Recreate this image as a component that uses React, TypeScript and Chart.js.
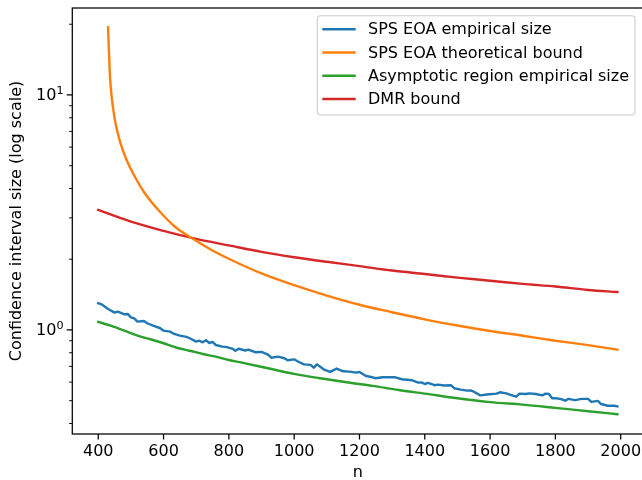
import React, { useEffect, useRef } from 'react';
import { Chart, registerables } from 'chart.js';

Chart.register(...registerables);

// ---------- data ----------
const blueN = [400,410,430,450,460,480,490,500,510,520,540,550,570,590,600,620,630,650,670,680,700,710,720,730,740,750,760,780,790,810,820,830,850,860,880,900,920,930,950,970,980,1000,1010,1030,1050,1060,1070,1090,1110,1130,1150,1170,1190,1200,1220,1240,1250,1270,1300,1310,1330,1360,1380,1390,1400,1410,1430,1440,1460,1480,1490,1510,1530,1540,1550,1570,1590,1620,1630,1650,1660,1680,1690,1710,1720,1740,1760,1770,1780,1790,1800,1820,1830,1840,1860,1880,1900,1910,1930,1940,1960,1980,1990];
const blueSize = [1.299,1.286,1.229,1.185,1.197,1.166,1.170,1.132,1.121,1.085,1.092,1.068,1.040,1.017,0.993,0.984,0.965,0.946,0.934,0.922,0.892,0.900,0.886,0.904,0.880,0.889,0.863,0.849,0.847,0.833,0.816,0.832,0.818,0.825,0.804,0.806,0.785,0.762,0.770,0.758,0.743,0.750,0.736,0.714,0.710,0.691,0.714,0.680,0.663,0.685,0.667,0.665,0.658,0.663,0.637,0.629,0.623,0.629,0.630,0.629,0.617,0.611,0.597,0.598,0.589,0.595,0.582,0.585,0.580,0.582,0.565,0.557,0.552,0.553,0.546,0.527,0.531,0.536,0.543,0.537,0.531,0.520,0.536,0.534,0.537,0.534,0.527,0.536,0.534,0.512,0.513,0.507,0.500,0.509,0.503,0.509,0.509,0.494,0.499,0.484,0.476,0.476,0.473];

const orangeN = [430,433,436,441,451,466,487,512,543,584,635,686,747,803,900,1000,1100,1200,1300,1400,1500,1600,1700,1800,1900,1990];
const orangeSize = [19.4,15.0,11.96,9.84,7.83,6.38,5.29,4.49,3.81,3.24,2.75,2.46,2.19,2.0,1.74,1.55,1.40,1.28,1.19,1.11,1.045,0.99,0.945,0.90,0.862,0.825];

const greenN = [400,440,480,520,560,600,640,680,720,760,800,840,920,1000,1080,1160,1240,1320,1400,1500,1600,1700,1800,1900,1990];
const greenSize = [1.082,1.040,0.993,0.946,0.913,0.878,0.840,0.816,0.790,0.770,0.745,0.726,0.687,0.650,0.623,0.599,0.578,0.555,0.536,0.512,0.493,0.481,0.466,0.451,0.438];

const redN = [400,500,600,700,800,900,1000,1100,1200,1300,1400,1500,1600,1700,1800,1900,1990];
const redSize = [3.24,2.89,2.64,2.44,2.29,2.15,2.04,1.95,1.87,1.79,1.73,1.67,1.62,1.57,1.53,1.48,1.45];

const seriesLabels = [
  'SPS EOA empirical size',
  'SPS EOA theoretical bound',
  'Asymptotic region empirical size',
  'DMR bound',
];
const seriesColors = ['#1f77b4', '#ff7f0e', '#2ca02c', '#d62728'];

const xTickValues = [400, 600, 800, 1000, 1200, 1400, 1600, 1800, 2000];
const yMajorTicks = [1, 10];
const yMajorExponents = ['0', '1'];
const yMinorTicks = [0.4, 0.5, 0.6, 0.7, 0.8, 0.9, 2, 3, 4, 5, 6, 7, 8, 9, 20];

const xTitle = 'n';
const yTitle = 'Confidence interval size (log scale)';

// ---------- helpers ----------
const FONT_FAMILY = '"DejaVu Sans", "Liberation Sans", sans-serif';
const FS = 16;
const LW = 2.4;

const toPoints = (xs: number[], ys: number[]) => xs.map((x, i) => ({ x, y: ys[i] }));

const mplPlugin = {
  id: 'mplDecor',
  afterDraw(chart: any) {
    const { ctx, chartArea: a, scales } = chart;
    const xs = scales.x;
    const ys = scales.y;
    ctx.save();
    // spines
    ctx.strokeStyle = '#000';
    ctx.lineWidth = 1.25;
    ctx.strokeRect(a.left, a.top, a.right - a.left, a.bottom - a.top);

    // x major ticks
    ctx.beginPath();
    for (const v of xTickValues) {
      const px = xs.getPixelForValue(v);
      ctx.moveTo(px, a.bottom);
      ctx.lineTo(px, a.bottom + 5.6);
    }
    ctx.stroke();

    // y major ticks
    ctx.beginPath();
    for (const v of yMajorTicks) {
      const py = ys.getPixelForValue(v);
      ctx.moveTo(a.left, py);
      ctx.lineTo(a.left - 5.6, py);
    }
    ctx.stroke();
    // y minor ticks
    ctx.lineWidth = 0.95;
    ctx.beginPath();
    for (const v of yMinorTicks) {
      const py = ys.getPixelForValue(v);
      ctx.moveTo(a.left, py);
      ctx.lineTo(a.left - 3.2, py);
    }
    ctx.stroke();

    // y tick labels  10^k
    ctx.fillStyle = '#000';
    ctx.textBaseline = 'alphabetic';
    ctx.textAlign = 'left';
    yMajorTicks.forEach((v, i) => {
      const py = ys.getPixelForValue(v);
      const exp = yMajorExponents[i];
      ctx.font = `${FS * 0.7}px ${FONT_FAMILY}`;
      const ew = ctx.measureText(exp).width;
      ctx.font = `${FS}px ${FONT_FAMILY}`;
      const bw = ctx.measureText('10').width;
      const right = 63.5;
      const x0 = right - ew - bw;
      ctx.fillText('10', x0, py + 5.5);
      ctx.font = `${FS * 0.7}px ${FONT_FAMILY}`;
      ctx.fillText(exp, x0 + bw, py - 1.3);
    });

    // legend
    const lx = 317.3, ly = 15.7, lw = 317.7, lh = 99.3, r = 3.2;
    ctx.beginPath();
    ctx.moveTo(lx + r, ly);
    ctx.lineTo(lx + lw - r, ly);
    ctx.quadraticCurveTo(lx + lw, ly, lx + lw, ly + r);
    ctx.lineTo(lx + lw, ly + lh - r);
    ctx.quadraticCurveTo(lx + lw, ly + lh, lx + lw - r, ly + lh);
    ctx.lineTo(lx + r, ly + lh);
    ctx.quadraticCurveTo(lx, ly + lh, lx, ly + lh - r);
    ctx.lineTo(lx, ly + r);
    ctx.quadraticCurveTo(lx, ly, lx + r, ly);
    ctx.closePath();
    ctx.fillStyle = 'rgba(255,255,255,0.8)';
    ctx.fill();
    ctx.strokeStyle = '#cccccc';
    ctx.lineWidth = 1.1;
    ctx.stroke();

    chart.data.datasets.forEach((ds: any, i: number) => {
      const y = 29.3 + i * 23.23;
      ctx.strokeStyle = ds.borderColor;
      ctx.lineWidth = LW;
      ctx.lineCap = 'butt';
      ctx.beginPath();
      ctx.moveTo(322.3, y);
      ctx.lineTo(355.7, y);
      ctx.stroke();
      ctx.fillStyle = '#000';
      ctx.font = `${FS}px ${FONT_FAMILY}`;
      ctx.fillText(ds.label, 368, y + 5);
    });
    ctx.restore();
  },
};

export default function App() {
  const ref = useRef<HTMLCanvasElement>(null);

  useEffect(() => {
    if (!ref.current) return;
    const mk = (i: number, xs: number[], ys: number[], smooth: boolean) => ({
      label: seriesLabels[i],
      data: toPoints(xs, ys),
      borderColor: seriesColors[i],
      backgroundColor: seriesColors[i],
      borderWidth: LW,
      pointRadius: 0,
      pointHoverRadius: 0,
      fill: false,
      borderJoinStyle: 'round' as const,
      borderCapStyle: 'square' as const,
      cubicInterpolationMode: smooth ? ('monotone' as const) : ('default' as const),
      tension: 0,
    });

    const chart = new Chart(ref.current, {
      type: 'line',
      data: {
        datasets: [
          mk(0, blueN, blueSize, false),
          mk(1, orangeN, orangeSize, true),
          mk(2, greenN, greenSize, true),
          mk(3, redN, redSize, true),
        ],
      },
      options: {
        responsive: false,
        animation: false,
        devicePixelRatio: 1,
        events: [],
        layout: { padding: { left: 0, top: 8, right: 650 - 643.4, bottom: 0 } },
        plugins: {
          legend: { display: false },
          tooltip: { enabled: false },
        },
        scales: {
          x: {
            type: 'linear',
            min: 320.5,
            max: 2069.5,
            afterFit: (s: any) => { s.height = 46; },
            afterBuildTicks: (s: any) => { s.ticks = xTickValues.map((v) => ({ value: v })); },
            grid: { display: false, drawTicks: false, tickLength: 0 },
            border: { display: false },
            ticks: {
              color: '#000',
              font: { family: FONT_FAMILY, size: FS },
              padding: 8.1,
              maxRotation: 0,
              autoSkip: false,
              callback: (v: any) => String(v),
            },
            title: {
              display: true,
              text: xTitle,
              color: '#000',
              font: { family: FONT_FAMILY, size: FS },
              padding: { top: 0, bottom: -2 },
            },
          },
          y: {
            type: 'logarithmic',
            min: 0.3608,
            max: 23.45,
            afterFit: (s: any) => { s.width = 72.3; },
            afterBuildTicks: (s: any) => {
              s.ticks = [...yMinorTicks, ...yMajorTicks].sort((p, q) => p - q).map((v) => ({ value: v }));
            },
            grid: { display: false, drawTicks: false, tickLength: 0 },
            border: { display: false },
            ticks: { display: false },
            title: {
              display: true,
              text: yTitle,
              color: '#000',
              font: { family: FONT_FAMILY, size: FS },
              padding: { top: 7.7, bottom: 0 },
            },
          },
        },
      },
      plugins: [mplPlugin],
    } as any);

    return () => chart.destroy();
  }, []);

  return (
    <div
      style={{
        position: 'fixed',
        left: 0,
        top: 0,
        width: 642,
        height: 480,
        overflow: 'hidden',
        background: '#fff',
      }}
    >
      <canvas ref={ref} width={650} height={480} style={{ display: 'block', width: 650, height: 480 }} />
    </div>
  );
}
